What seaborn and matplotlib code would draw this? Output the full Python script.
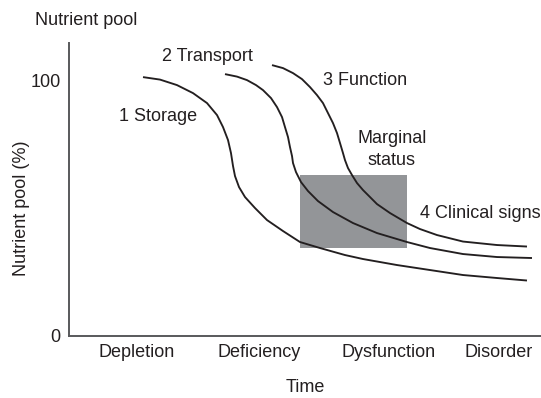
import matplotlib
matplotlib.use("Agg")
import matplotlib.pyplot as plt
import seaborn as sns
import pandas as pd

# ---- data ----
storage_x = [15.68, 19.28, 22.88, 26.27, 29.24, 31.36, 32.63, 33.69, 34.32, 34.75, 35.17, 36.02,
             37.29, 39.41, 41.95, 45.34, 48.94, 53.18, 58.47, 62.29, 69.49, 76.48, 83.47, 90.68, 97.03]
storage_y = [101.17, 100.20, 98.05, 94.92, 91.02, 86.33, 81.64, 76.56, 71.48, 66.41, 62.50, 58.20,
             54.30, 50.00, 45.31, 41.02, 36.72, 34.38, 31.64, 30.08, 27.73, 25.78, 23.83, 22.66, 21.68]

transport_x = [33.05, 35.59, 37.71, 39.62, 41.10, 42.80, 44.07, 45.13, 45.76, 46.40, 46.82, 47.25, 47.46,
               48.09, 49.15, 50.64, 52.75, 55.93, 60.17, 65.25, 71.61, 76.48, 83.47, 90.68, 98.09]
transport_y = [102.34, 101.37, 100.00, 98.05, 96.09, 92.97, 89.45, 85.55, 81.64, 77.73, 73.83, 70.31, 67.58,
               64.06, 60.16, 56.64, 52.73, 48.44, 44.14, 40.23, 36.72, 34.38, 32.03, 30.86, 30.47]

function_x = [43.01, 45.34, 47.46, 49.36, 51.06, 52.54, 53.81, 54.87, 55.93, 56.78, 57.42, 58.05, 58.47,
              59.11, 59.96, 61.02, 62.29, 63.77, 65.25, 68.01, 71.61, 74.36, 77.97, 83.47, 90.68, 97.03]
function_y = [105.86, 104.69, 102.73, 100.39, 97.27, 94.14, 91.02, 87.11, 83.20, 79.30, 75.39, 71.48, 68.75,
              65.63, 62.89, 59.77, 57.03, 54.30, 51.56, 48.05, 44.14, 41.80, 39.45, 36.91, 35.55, 34.96]

marginal_x = [48.9, 71.6]
marginal_y = [34.4, 62.9]

stage_labels = ["Depletion", "Deficiency", "Dysfunction", "Disorder"]
stage_pos = [14.4, 40.2, 67.8, 91.1]

y_ticks = [0, 100]

frames = []
for name, xs, ys in [("1 Storage", storage_x, storage_y),
                     ("2 Transport", transport_x, transport_y),
                     ("3 Function", function_x, function_y)]:
    frames.append(pd.DataFrame({"x": xs, "y": ys, "curve": name}))
df = pd.concat(frames, ignore_index=True)

# ---- style ----
sns.set_style("white")
plt.rcParams["font.family"] = ["Liberation Sans", "DejaVu Sans"]
TXT = "#231f20"
SPINE = "#58595b"
FS = 13

fig = plt.figure(figsize=(5.41, 3.98), dpi=100)
ax = fig.add_axes([69 / 541, 62 / 398, 472 / 541, 293 / 398])

ax.fill_between(marginal_x, marginal_y[0], marginal_y[1], color="#939598",
                linewidth=0, zorder=1)

sns.lineplot(data=df, x="x", y="y", hue="curve", units="curve", estimator=None,
             sort=False, palette=[TXT, TXT, TXT], legend=False, linewidth=1.35,
             ax=ax, zorder=3, solid_joinstyle="round", solid_capstyle="butt")

ax.set_xlim(0, 100)
ax.set_ylim(0, 114.5)

for s in ["top", "right"]:
    ax.spines[s].set_visible(False)
for s in ["left", "bottom"]:
    ax.spines[s].set_color(SPINE)
    ax.spines[s].set_linewidth(1.4)

ax.set_yticks(y_ticks)
ax.set_yticklabels([str(v) for v in y_ticks], fontsize=FS, color=TXT)
ax.tick_params(axis="y", direction="in", length=10, width=1.4, color=SPINE, pad=6)

ax.set_xticks(stage_pos)
ax.set_xticklabels(stage_labels, fontsize=FS, color=TXT)
ax.tick_params(axis="x", length=0, pad=5.5)

ax.set_xlabel("Time", fontsize=FS, color=TXT)
ax.xaxis.set_label_coords(0.5, -0.148)
ax.set_ylabel("Nutrient pool (%)", fontsize=FS, color=TXT)
ax.yaxis.set_label_coords(-0.083, 0.437)

fig.text(35 / 541, 1 - 25 / 398, "Nutrient pool", fontsize=FS, color=TXT,
         ha="left", va="baseline")

ax.text(10.6, 84.0, "1 Storage", fontsize=FS, color=TXT, ha="left", va="baseline")
ax.text(19.7, 107.4, "2 Transport", fontsize=FS, color=TXT, ha="left", va="baseline")
ax.text(53.8, 98.0, "3 Function", fontsize=FS, color=TXT, ha="left", va="baseline")
ax.text(68.4, 75.4, "Marginal", fontsize=FS, color=TXT, ha="center", va="baseline")
ax.text(68.4, 66.8, "status", fontsize=FS, color=TXT, ha="center", va="baseline")
ax.text(74.4, 46.1, "4 Clinical signs", fontsize=FS, color=TXT, ha="left", va="baseline",
        clip_on=False)

fig.savefig("out.png", dpi=100)
